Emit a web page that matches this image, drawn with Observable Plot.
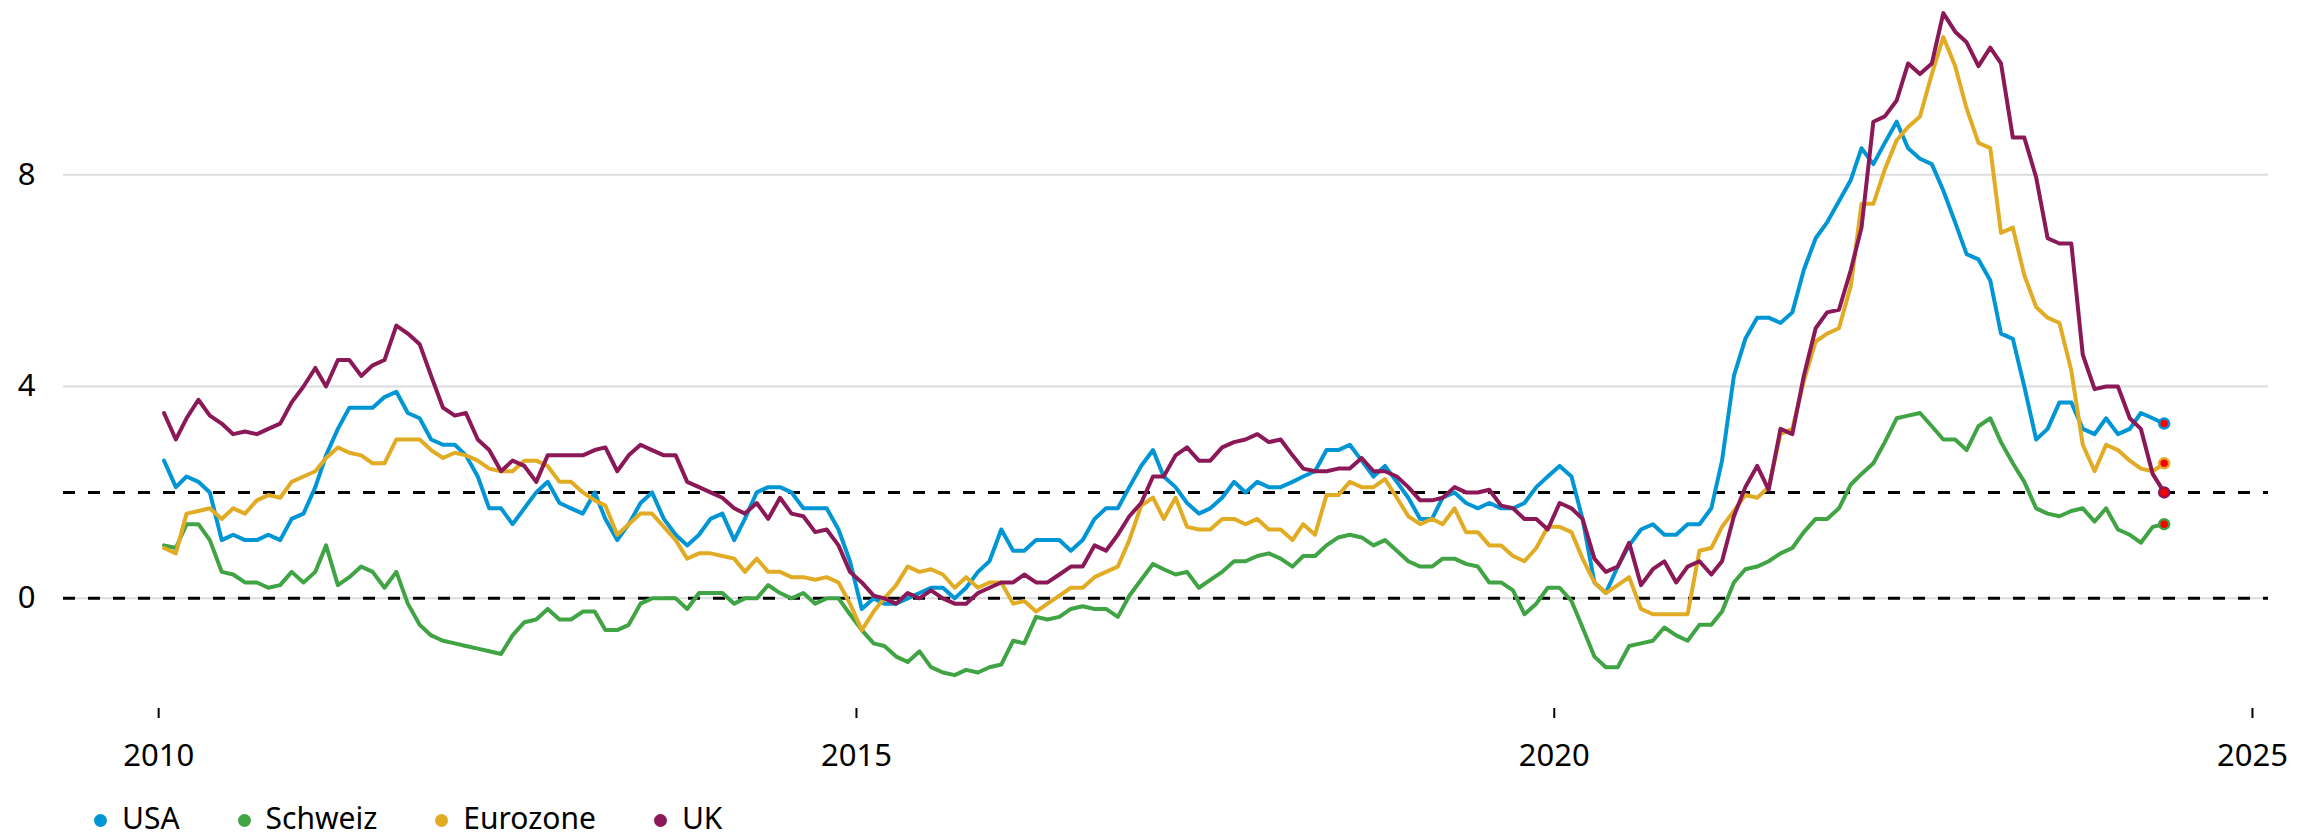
<!DOCTYPE html>
<html>
<head>
<meta charset="utf-8">
<script src="https://cdn.jsdelivr.net/npm/d3@7"></script>
<script src="https://cdn.jsdelivr.net/npm/@observablehq/plot@0.6"></script>
<style>
  body { margin: 0; background: #fff; }
  #chart svg { display: block; }
  .legend { display: flex; height: 46px; box-sizing: border-box; padding-left: 94px; padding-top: 10.4px;
            font-family: "Noto Sans", sans-serif; font-size: 30px; line-height: 30px; color: #000; overflow: visible; }
  .item { display: flex; align-items: center; margin-right: 58px; }
  .dot { width: 13px; height: 13px; border-radius: 50%; margin-right: 15px; position: relative; top: 2.6px; }
</style>
</head>
<body>
<div id="chart"></div>
<div class="legend" id="legend"></div>
<script>
// Series names and colours
const seriesNames = ["USA", "Schweiz", "Eurozone", "UK"];
const seriesColors = ["#0096d6", "#40a445", "#e2ab24", "#8b1857"];

// Monthly inflation (% y/y), January 2010 to May 2024
const startYear = 2010;

const usa = [
  2.6, 2.1, 2.3, 2.2, 2.0, 1.1, 1.2, 1.1, 1.1, 1.2, 1.1, 1.5,
  1.6, 2.1, 2.7, 3.2, 3.6, 3.6, 3.6, 3.8, 3.9, 3.5, 3.4, 3.0,
  2.9, 2.9, 2.7, 2.3, 1.7, 1.7, 1.4, 1.7, 2.0, 2.2, 1.8, 1.7,
  1.6, 2.0, 1.5, 1.1, 1.4, 1.8, 2.0, 1.5, 1.2, 1.0, 1.2, 1.5,
  1.6, 1.1, 1.5, 2.0, 2.1, 2.1, 2.0, 1.7, 1.7, 1.7, 1.3, 0.7,
  -0.2, 0.0, -0.1, -0.1, 0.0, 0.1, 0.2, 0.2, 0.0, 0.2, 0.5, 0.7,
  1.3, 0.9, 0.9, 1.1, 1.1, 1.1, 0.9, 1.1, 1.5, 1.7, 1.7, 2.1,
  2.5, 2.8, 2.3, 2.1, 1.8, 1.6, 1.7, 1.9, 2.2, 2.0, 2.2, 2.1,
  2.1, 2.2, 2.3, 2.4, 2.8, 2.8, 2.9, 2.6, 2.3, 2.5, 2.2, 1.9,
  1.5, 1.5, 1.9, 2.0, 1.8, 1.7, 1.8, 1.7, 1.7, 1.8, 2.1, 2.3,
  2.5, 2.3, 1.5, 0.3, 0.1, 0.6, 1.0, 1.3, 1.4, 1.2, 1.2, 1.4,
  1.4, 1.7, 2.6, 4.2, 4.9, 5.3, 5.3, 5.2, 5.4, 6.2, 6.8, 7.1,
  7.5, 7.9, 8.5, 8.2, 8.6, 9.0, 8.5, 8.3, 8.2, 7.7, 7.1, 6.5,
  6.4, 6.0, 5.0, 4.9, 4.0, 3.0, 3.2, 3.7, 3.7, 3.2, 3.1, 3.4,
  3.1, 3.2, 3.5, 3.4, 3.3
];

const schweiz = [
  1.0, 0.95, 1.4, 1.4, 1.1, 0.5, 0.45, 0.3, 0.3, 0.2, 0.25, 0.5,
  0.3, 0.5, 1.0, 0.25, 0.4, 0.6, 0.5, 0.2, 0.5, -0.1, -0.5, -0.7,
  -0.8, -0.85, -0.9, -0.95, -1.0, -1.05, -0.7, -0.45, -0.4, -0.2, -0.4, -0.4,
  -0.25, -0.25, -0.6, -0.6, -0.5, -0.1, 0.0, 0.0, 0.0, -0.2, 0.1, 0.1,
  0.1, -0.1, 0.0, 0.0, 0.25, 0.1, 0.0, 0.1, -0.1, 0.0, 0.0, -0.3,
  -0.6, -0.85, -0.9, -1.1, -1.2, -1.0, -1.3, -1.4, -1.45, -1.35, -1.4, -1.3,
  -1.25, -0.8, -0.85, -0.35, -0.4, -0.35, -0.2, -0.15, -0.2, -0.2, -0.35, 0.05,
  0.35, 0.65, 0.55, 0.45, 0.5, 0.2, 0.35, 0.5, 0.7, 0.7, 0.8, 0.85,
  0.75, 0.6, 0.8, 0.8, 1.0, 1.15, 1.2, 1.15, 1.0, 1.1, 0.9, 0.7,
  0.6, 0.6, 0.75, 0.75, 0.65, 0.6, 0.3, 0.3, 0.15, -0.3, -0.1, 0.2,
  0.2, -0.05, -0.55, -1.1, -1.3, -1.3, -0.9, -0.85, -0.8, -0.55, -0.7, -0.8,
  -0.5, -0.5, -0.25, 0.3, 0.55, 0.6, 0.7, 0.85, 0.95, 1.25, 1.5, 1.5,
  1.7, 2.15, 2.35, 2.55, 2.95, 3.4, 3.45, 3.5, 3.25, 3.0, 3.0, 2.8,
  3.25, 3.4, 2.95, 2.55, 2.2, 1.7, 1.6, 1.55, 1.65, 1.7, 1.45, 1.7,
  1.3, 1.2, 1.05, 1.35, 1.4
];

const eurozone = [
  0.95, 0.85, 1.6, 1.65, 1.7, 1.5, 1.7, 1.6, 1.85, 1.95, 1.9, 2.2,
  2.3, 2.4, 2.65, 2.85, 2.75, 2.7, 2.55, 2.55, 3.0, 3.0, 3.0, 2.8,
  2.65, 2.75, 2.7, 2.6, 2.45, 2.4, 2.4, 2.6, 2.6, 2.5, 2.2, 2.2,
  2.0, 1.85, 1.75, 1.2, 1.4, 1.6, 1.6, 1.35, 1.1, 0.75, 0.85, 0.85,
  0.8, 0.75, 0.5, 0.75, 0.5, 0.5, 0.4, 0.4, 0.35, 0.4, 0.3, -0.1,
  -0.6, -0.25, 0.0, 0.25, 0.6, 0.5, 0.55, 0.45, 0.2, 0.4, 0.2, 0.3,
  0.3, -0.1, -0.05, -0.25, -0.1, 0.05, 0.2, 0.2, 0.4, 0.5, 0.6, 1.1,
  1.75, 1.9, 1.5, 1.9, 1.35, 1.3, 1.3, 1.5, 1.5, 1.4, 1.5, 1.3,
  1.3, 1.1, 1.4, 1.2, 1.95, 1.95, 2.2, 2.1, 2.1, 2.25, 1.9, 1.55,
  1.4, 1.5, 1.4, 1.7, 1.25, 1.25, 1.0, 1.0, 0.8, 0.7, 0.95, 1.35,
  1.35, 1.25, 0.75, 0.3, 0.1, 0.25, 0.4, -0.2, -0.3, -0.3, -0.3, -0.3,
  0.9, 0.95, 1.35, 1.65, 1.95, 1.9, 2.1, 3.1, 3.2, 4.1, 4.85, 5.0,
  5.1, 5.9, 7.45, 7.45, 8.1, 8.65, 8.9, 9.1, 9.9, 10.6, 10.05, 9.25,
  8.6, 8.5, 6.9, 7.0, 6.1, 5.5, 5.3, 5.2, 4.3, 2.9, 2.4, 2.9,
  2.8, 2.6, 2.45, 2.4, 2.55
];

const uk = [
  3.5, 3.0, 3.4, 3.75, 3.45, 3.3, 3.1, 3.15, 3.1, 3.2, 3.3, 3.7,
  4.0, 4.35, 4.0, 4.5, 4.5, 4.2, 4.4, 4.5, 5.15, 5.0, 4.8, 4.2,
  3.6, 3.45, 3.5, 3.0, 2.8, 2.4, 2.6, 2.5, 2.2, 2.7, 2.7, 2.7,
  2.7, 2.8, 2.85, 2.4, 2.7, 2.9, 2.8, 2.7, 2.7, 2.2, 2.1, 2.0,
  1.9, 1.7, 1.6, 1.8, 1.5, 1.9, 1.6, 1.55, 1.25, 1.3, 1.0, 0.5,
  0.3, 0.05, 0.0, -0.1, 0.1, 0.0, 0.15, 0.0, -0.1, -0.1, 0.1, 0.2,
  0.3, 0.3, 0.45, 0.3, 0.3, 0.45, 0.6, 0.6, 1.0, 0.9, 1.2, 1.55,
  1.8, 2.3, 2.3, 2.7, 2.85, 2.6, 2.6, 2.85, 2.95, 3.0, 3.1, 2.95,
  3.0, 2.7, 2.45, 2.4, 2.4, 2.45, 2.45, 2.65, 2.4, 2.4, 2.3, 2.1,
  1.85, 1.85, 1.9, 2.1, 2.0, 2.0, 2.05, 1.75, 1.7, 1.5, 1.5, 1.3,
  1.8, 1.7, 1.5, 0.75, 0.5, 0.6, 1.05, 0.25, 0.55, 0.7, 0.3, 0.6,
  0.7, 0.45, 0.7, 1.55, 2.1, 2.5, 2.05, 3.2, 3.1, 4.2, 5.1, 5.4,
  5.45, 6.2, 7.0, 9.0, 9.1, 9.4, 10.1, 9.9, 10.1, 11.05, 10.7, 10.5,
  10.05, 10.4, 10.1, 8.7, 8.7, 7.95, 6.8, 6.7, 6.7, 4.6, 3.95, 4.0,
  4.0, 3.4, 3.2, 2.35, 2.0
];

// Axis ticks and reference lines
const xTickYears = [2010, 2015, 2020, 2025];
const yTicks = [0, 4, 8];
const refLines = [0, 2];

const seriesValues = [usa, schweiz, eurozone, uk];
const rows = seriesNames.flatMap((name, s) =>
  seriesValues[s].map((v, i) => ({ series: name, date: new Date(Date.UTC(startYear, i, 15)), value: v }))
);
const lastRows = seriesNames.map((name, s) => {
  const vals = seriesValues[s];
  const i = vals.length - 1;
  return { series: name, date: new Date(Date.UTC(startYear, i, 15)), value: vals[i] };
});

const chart = Plot.plot({
  width: 2316,
  height: 790,
  marginLeft: 63,
  marginRight: 48,
  marginTop: 10,
  marginBottom: 82,
  style: { fontFamily: "'Noto Sans', sans-serif", fontSize: "31px", color: "#000", background: "#fff" },
  x: { type: "utc", domain: [new Date(Date.UTC(2009, 3, 27)), new Date(Date.UTC(2025, 1, 12))], label: null },
  y: { domain: [-2.08, 11.1], label: null },
  color: { domain: seriesNames, range: seriesColors },
  marks: [
    Plot.gridY(yTicks, { stroke: "#dcdcdc", strokeOpacity: 1, strokeWidth: 2 }),
    Plot.ruleY(refLines, { stroke: "#000", strokeWidth: 3, strokeDasharray: "12,13" }),
    Plot.axisY(yTicks, { tickSize: 0, tickPadding: 28, tickFormat: (d) => String(d), label: null }),
    Plot.axisX(xTickYears.map((y) => new Date(Date.UTC(y, 0, 1))), {
      tickSize: 10, tickPadding: 25, tickFormat: d3.utcFormat("%Y"), strokeWidth: 2, label: null
    }),
    Plot.line(rows, { x: "date", y: "value", z: "series", stroke: "series", strokeWidth: 4 }),
    Plot.dot(lastRows, { x: "date", y: "value", r: 5, fill: "#ff0000", stroke: "series", strokeWidth: 2.5 })
  ]
});
document.getElementById("chart").appendChild(chart);

const legend = document.getElementById("legend");
seriesNames.forEach((name, s) => {
  const item = document.createElement("div");
  item.className = "item";
  const dot = document.createElement("span");
  dot.className = "dot";
  dot.style.background = seriesColors[s];
  const label = document.createElement("span");
  label.textContent = name;
  item.appendChild(dot);
  item.appendChild(label);
  legend.appendChild(item);
});
</script>
</body>
</html>
